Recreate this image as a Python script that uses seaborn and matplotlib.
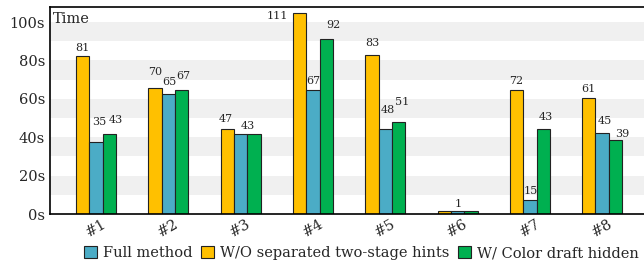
import numpy as np
import pandas as pd
import matplotlib
matplotlib.use("Agg")
import matplotlib.pyplot as plt
import seaborn as sns

# Cases on the x axis
cases = ["#1", "#2", "#3", "#4", "#5", "#6", "#7", "#8"]

# Methods, in bar order inside a group, and in legend order
methods = ["W/O separated two-stage hints", "Full method", "W/ Color draft hidden"]
legend_order = ["Full method", "W/O separated two-stage hints", "W/ Color draft hidden"]
colors = {"W/O separated two-stage hints": "#FFC000",
          "Full method": "#4BACC6",
          "W/ Color draft hidden": "#00B050"}

# Bar heights as drawn (seconds)
wo_hints = [82.4, 65.9, 44.1, 104.7, 82.6, 1.4, 64.7, 60.4]
full_method = [37.3, 62.3, 41.8, 64.7, 44.2, 1.4, 7.1, 42.0]
color_hidden = [41.8, 64.7, 41.8, 91.1, 47.7, 1.4, 44.1, 38.7]

# Numbers printed above the bars
wo_labels = [81, 70, 47, 111, 83, None, 72, 61]
full_labels = [35, 65, None, 67, 48, 1, 15, 45]
color_labels = [43, 67, 43, 92, 51, None, 43, 39]

# Label nudges in pixels (dx, height of label centre above the bar top)
wo_dx = [0, 0, -2, -22, 0, 0, 0, 0]
wo_dy = [8, 16, 10, -3, 12, 0, 9, 9]
full_dx = [3, 1, 0, 0, 2.5, 0.5, 0.5, 3]
full_dy = [20, 12, 0, 9, 19, 7.5, 9, 12]
color_dx = [6, 1.5, -6.5, 7, 4, 0, 3, 6.5]
color_dy = [14, 14, 8, 14, 20, 0, 12, 6]

df = pd.DataFrame({
    "case": cases * 3,
    "method": [methods[0]] * 8 + [methods[1]] * 8 + [methods[2]] * 8,
    "time": wo_hints + full_method + color_hidden,
})

sns.set_theme(style="white")
plt.rcParams["font.family"] = ["DejaVu Serif"]

DPI = 100
fig = plt.figure(figsize=(6.44, 2.67), dpi=DPI)
ax = fig.add_axes([50 / 644, 53 / 267, 610 / 644, 207.3 / 267])

# alternating light bands
for lo in range(10, 100, 20):
    ax.axhspan(lo, lo + 10, color="#F0F0F0", zorder=0, lw=0)

sns.barplot(data=df, x="case", y="time", hue="method", hue_order=methods,
            palette=colors, width=0.553, edgecolor="#222222", linewidth=0.8,
            saturation=1, ax=ax, zorder=2)

label_sets = [(wo_labels, wo_dx, wo_dy),
              (full_labels, full_dx, full_dy),
              (color_labels, color_dx, color_dy)]
pt = 72 / DPI
for cont, (labs, dxs, dys) in zip(ax.containers, label_sets):
    for bar, lab, dx, dy in zip(cont, labs, dxs, dys):
        if lab is None:
            continue
        x = bar.get_x() + bar.get_width() / 2
        y = bar.get_height()
        ax.annotate(str(lab), (x, y), xytext=(dx * pt, dy * pt),
                    textcoords="offset points", ha="center", va="center",
                    fontsize=8, zorder=3)

ax.set_xlim(-0.636, 7.80)
ax.set_ylim(0, 108)
ax.set_yticks(range(0, 101, 20))
ax.set_yticklabels([f"{v}s" for v in range(0, 101, 20)], fontsize=10.5)
ax.set_xticks(range(len(cases)))
ax.set_xticklabels(cases, rotation=30, ha="center", fontsize=10.5)
ax.tick_params(length=0, pad=3.5)
ax.tick_params(axis="x", pad=2)
ax.set_xlabel("")
ax.set_ylabel("")
for s in ["left", "bottom", "top"]:
    ax.spines[s].set_color("black")
    ax.spines[s].set_linewidth(1.2)
ax.spines["right"].set_visible(False)

ax.text(0.005, 0.975, "Time", transform=ax.transAxes, ha="left", va="top",
        fontsize=10.5)

handles, labels = ax.get_legend_handles_labels()
ax.get_legend().remove()
hmap = dict(zip(labels, handles))
fig.legend([hmap[m] for m in legend_order], legend_order, loc="center left",
           bbox_to_anchor=(84 / 644, 14 / 267), ncol=3, frameon=False,
           fontsize=10.5, handlelength=0.9, handleheight=0.9,
           handletextpad=0.4, columnspacing=0.6, borderaxespad=0,
           borderpad=0)

fig.savefig("out.png", dpi=DPI)
